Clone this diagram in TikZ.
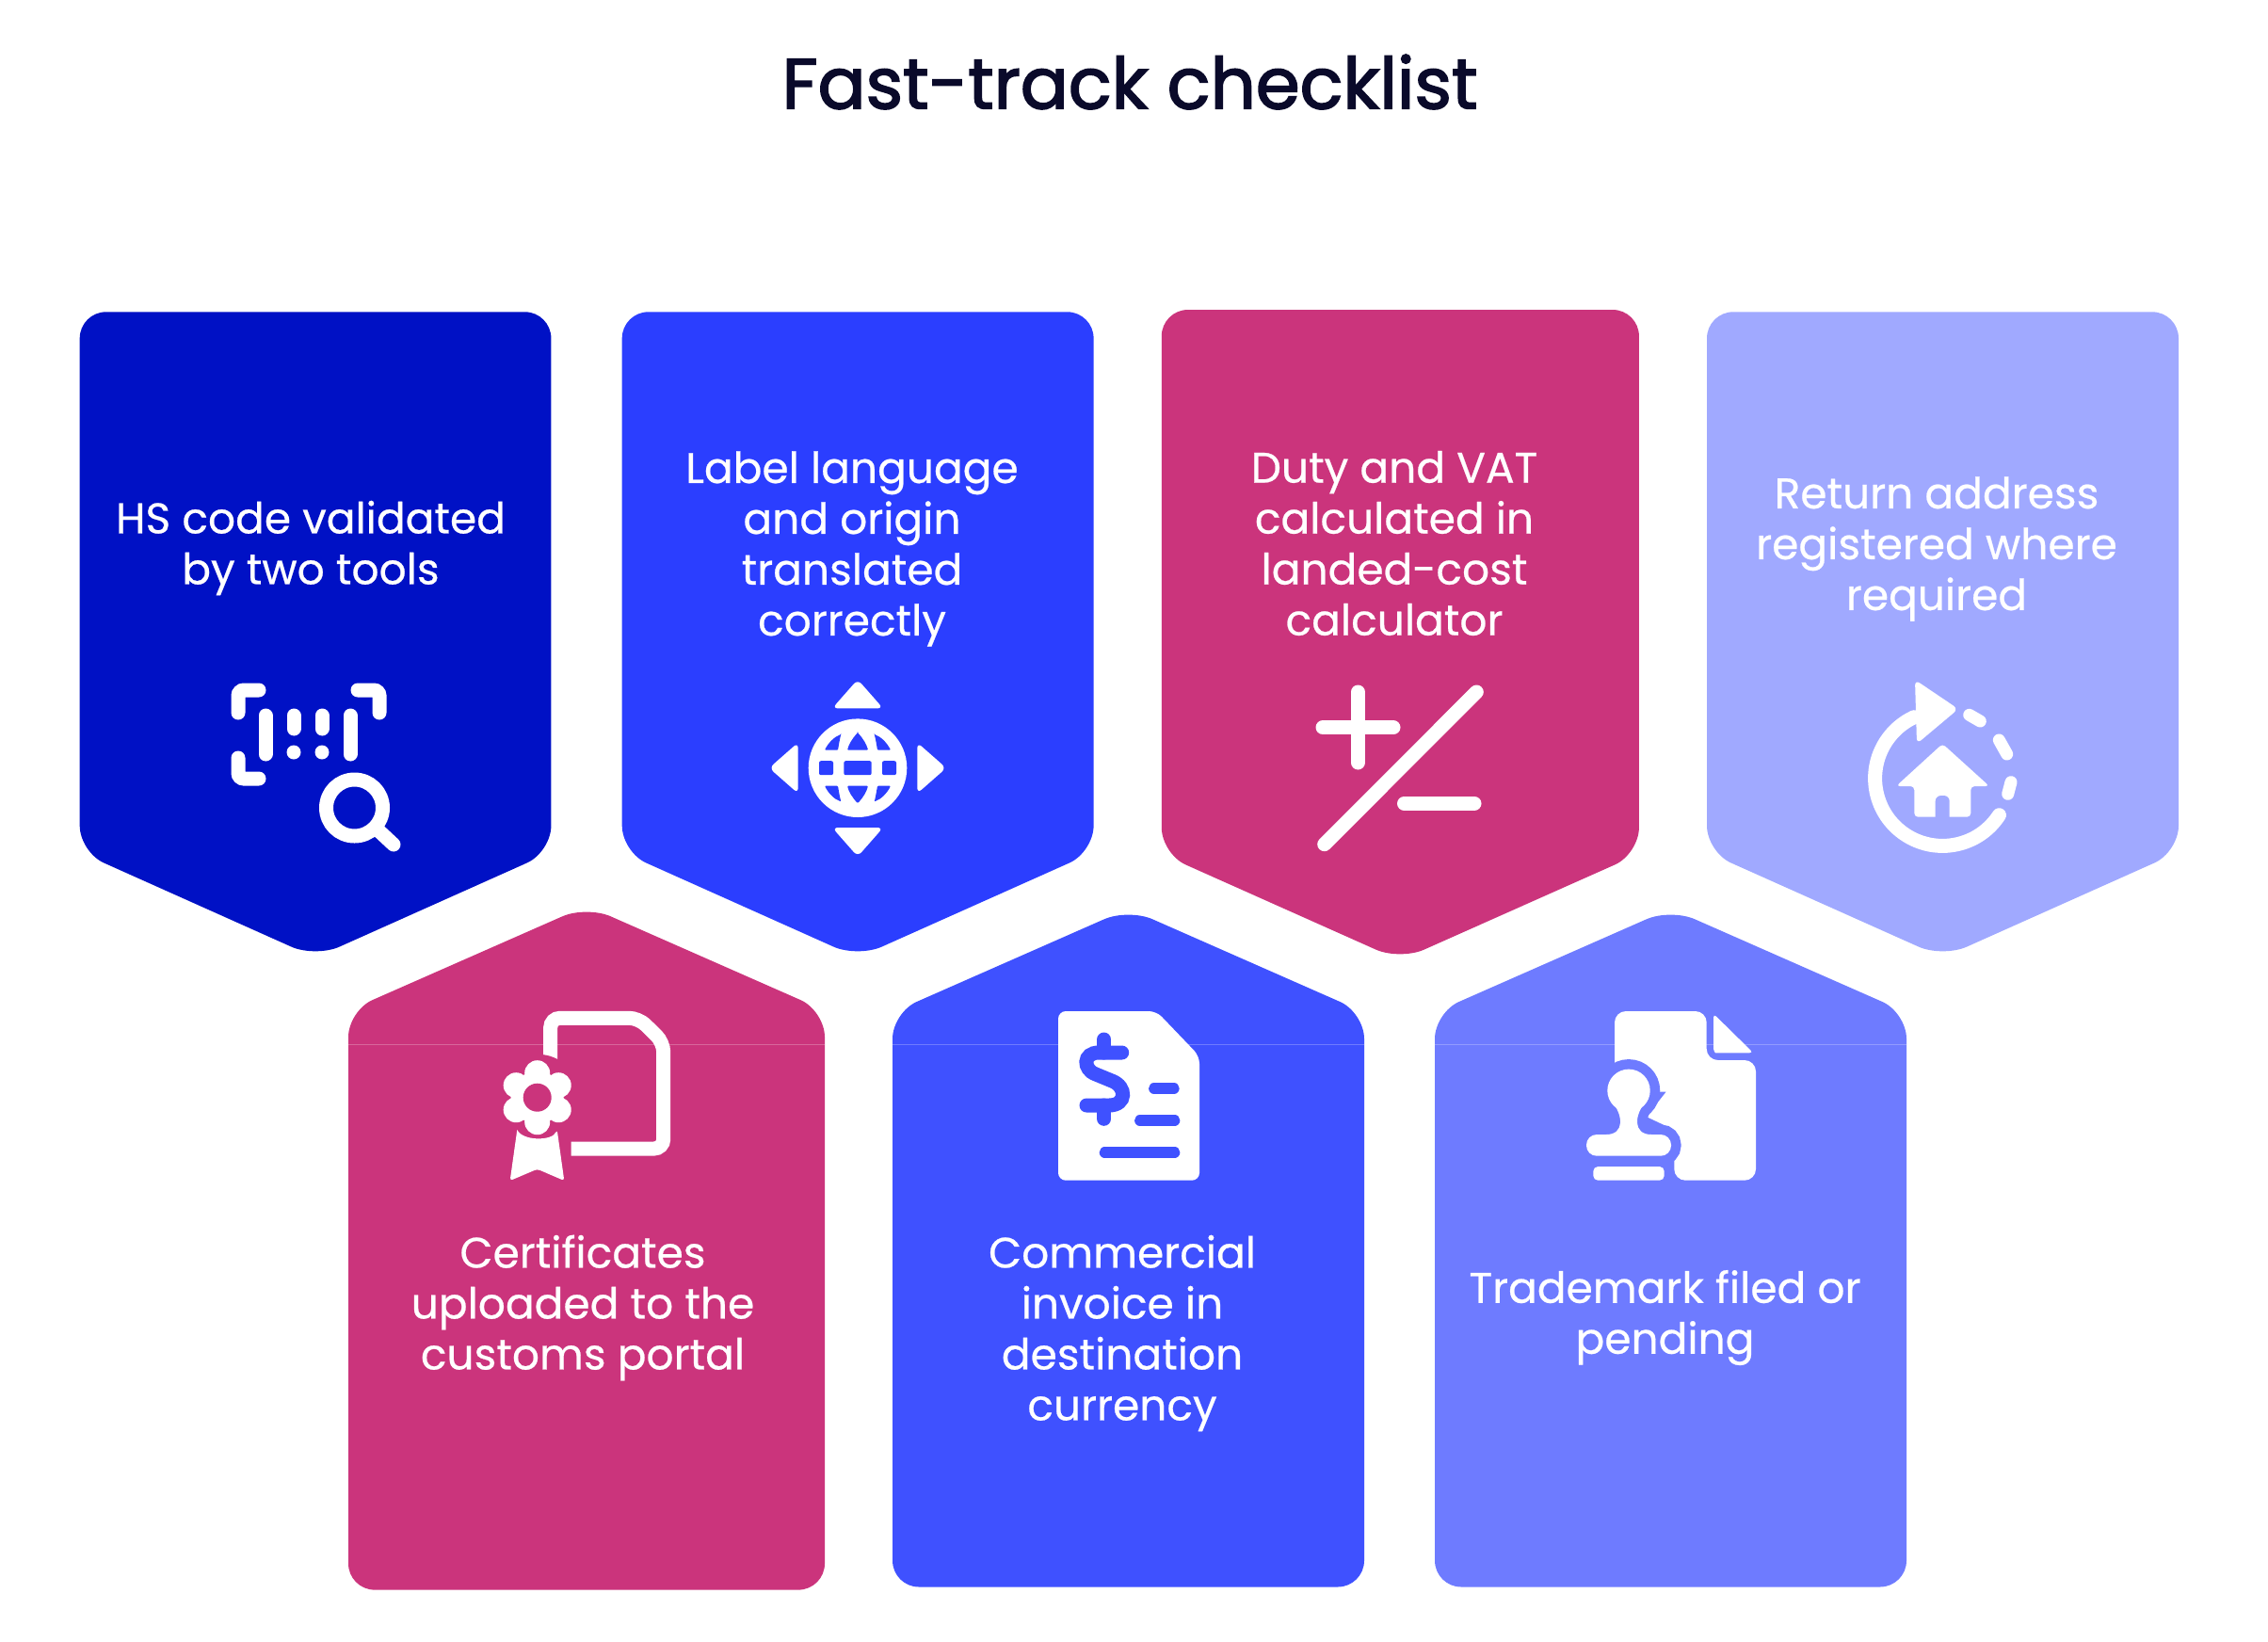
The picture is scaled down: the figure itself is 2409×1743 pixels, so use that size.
\documentclass[tikz,border=0pt]{standalone}
\usepackage{fontspec}
\setmainfont{Poppins}
\newfontfamily\titlefont[FakeBold=2.2]{Poppins}
\newfontfamily\captionfont[FakeBold=0.5]{Poppins}
\definecolor{navy}{HTML}{0011C5}
\definecolor{royal}{HTML}{2B3EFF}
\definecolor{berry}{HTML}{CB347C}
\definecolor{lilac}{HTML}{A0A9FF}
\definecolor{azure}{HTML}{3F51FF}
\definecolor{periwinkle}{HTML}{6E7BFF}
\definecolor{ink}{HTML}{0A0A2A}
\tikzset{
  card/.style={rounded corners=28pt},
  seam/.style={line width=1.5pt,white,opacity=0.25},
  caption/.style={white,align=center,font=\captionfont\fontsize{45.5}{54}\selectfont},
  iconline/.style={white,line width=15pt,line cap=round},
  iconfill/.style={fill=white,rounded corners=4pt}
}

\begin{document}
\begin{tikzpicture}[x=1pt,y=-1pt]
    \useasboundingbox (0,0) rectangle (2409,1743);
    \node[ink,font=\titlefont\fontsize{75.5}{80}\selectfont] (title) at (1200,87) {Fast-track checklist};

    \fill[card,navy] (335,331.3) -- (585.4,331.3) -- (585.4,905) -- (335,1017) -- (84.7,905) -- (84.7,331.3) -- cycle;
    \fill[card,royal] (911,331.3) -- (1161.6,331.3) -- (1161.6,905) -- (911,1017) -- (660.7,905) -- (660.7,331.3) -- cycle;
    \fill[card,berry] (1487,329) -- (1740.9,329) -- (1740.9,907) -- (1487,1020) -- (1233.8,907) -- (1233.8,329) -- cycle;
    \fill[card,lilac] (2063.5,331.3) -- (2314,331.3) -- (2314,905) -- (2063.5,1017) -- (1813,905) -- (1813,331.3) -- cycle;
    \fill[card,berry] (623,1688.6) -- (370,1688.6) -- (370,1073.4) -- (623,962) -- (876,1073.4) -- (876,1688.6) -- cycle;
    \fill[card,azure] (1198.5,1685.5) -- (948,1685.5) -- (948,1075.3) -- (1198.5,965) -- (1449,1075.3) -- (1449,1685.5) -- cycle;
    \fill[card,periwinkle] (1774.5,1685.5) -- (1524,1685.5) -- (1524,1075.3) -- (1774.5,965) -- (2025,1075.3) -- (2025,1685.5) -- cycle;
    \draw[seam] (370,1109.3) -- (876,1109.3);
    \draw[seam] (948,1109.3) -- (1449,1109.3);
    \draw[seam] (1524,1109.3) -- (2025,1109.3);

    \node[caption] (hscode) at (330,582) {HS code validated\\by two tools};
    \node[caption] (labellang) at (905,583) {Label language\\and origin\\translated\\correctly};
    \node[caption] (duty) at (1481,577) {Duty and VAT\\calculated in\\landed-cost\\calculator};
    \node[caption] (returnaddr) at (2057,583) {Return address\\registered where\\required};
    \node[caption] (certs) at (619,1389) {Certificates\\uploaded to the\\customs portal};
    \node[caption] (invoice) at (1192,1416) {Commercial\\invoice in\\destination\\currency};
    \node[caption] (trademark) at (1768.5,1399.5) {Trademark filed or\\pending};

    % barcode
    \draw[iconline,rounded corners=6pt] (253,757) -- (253,733) -- (275,733);
    \draw[iconline,rounded corners=6pt] (403,757) -- (403,733) -- (380,733);
    \draw[iconline,rounded corners=6pt] (253,805) -- (253,827) -- (275,827);
    \draw[iconline] (282,760) -- (282,801);
    \draw[iconline] (372,760) -- (372,801);
    \foreach \x in {312,342} {
      \draw[iconline] (\x,760) -- (\x,774);
      \fill[white] (\x,799) circle (7.5);
    }
    \draw[white,line width=15pt] (376.5,858) circle (30);
    \draw[iconline] (403,883) -- (418,897);

    % globe
    \begin{scope}[shift={(911,815.7)}]
      \fill[white] (0,0) circle (52.3);
      \fill[royal,rounded corners=2pt] (-41,-7.5) rectangle (-26,7.5);
      \fill[royal,rounded corners=2pt] (-14.7,-7.5) rectangle (14.7,7.5);
      \fill[royal,rounded corners=2pt] (26,-7.5) rectangle (41,7.5);
      \foreach \s in {1,-1} {
        \begin{scope}[yscale=\s]
          \fill[royal,rounded corners=1pt] (0,-37.5) .. controls (6,-31) and (9.5,-25) .. (11,-19) -- (-11,-19) .. controls (-9.5,-25) and (-6,-31) .. cycle;
          \fill[royal,rounded corners=1pt] (-17.7,-35.7) .. controls (-25,-33) and (-31,-27) .. (-35,-19) -- (-21,-19) .. controls (-20,-25) and (-19,-31) .. cycle;
          \fill[royal,rounded corners=1pt] (17.7,-35.7) .. controls (25,-33) and (31,-27) .. (35,-19) -- (21,-19) .. controls (20,-25) and (19,-31) .. cycle;
        \end{scope}
      }
      \foreach \a in {0,90,180,270} {
        \fill[iconfill,rounded corners=6pt,rotate=\a] (-27,-63.3) -- (0,-94) -- (27,-63.3) -- cycle;
      }
    \end{scope}

    % plus and minus
    \draw[iconline] (1405,772.7) -- (1480,772.7);
    \draw[iconline] (1442.3,735) -- (1442.3,810);
    \draw[iconline] (1406.7,896.7) -- (1568.3,735);
    \draw[iconline] (1491.5,853.3) -- (1566,853.3);

    % return home
    \draw[iconline] (2063.3,826.7) ++(33:71.7) arc[start angle=33,end angle=245,radius=71.7];
    \fill[iconfill,rounded corners=6pt] (2034,722) -- (2080,753) -- (2036,790) -- cycle;
    \draw[iconline,line width=13pt] (2091.7,759.3) -- (2103.3,766);
    \draw[iconline,line width=13pt] (2123.3,786) -- (2131.7,801);
    \draw[iconline,line width=13pt] (2136,830.7) -- (2132.7,843.3);
    \fill[iconfill] (2063.3,790) -- (2113,835) -- (2093.3,835) -- (2093.3,867.7) -- (2033.3,867.7) -- (2033.3,835) -- (2014,835) -- cycle;
    \fill[lilac,rounded corners=6pt] (2055.7,870) -- (2055.7,845) -- (2070.7,845) -- (2070.7,870);
    \fill[lilac] (2055.7,868) rectangle (2070.7,870);

    % certificate
    \draw[white,line width=15pt,rounded corners=10pt] (584.7,1140) -- (584.7,1081.3) -- (678.3,1081.3) -- (704.7,1107.3) -- (704.7,1220) -- (606.7,1220);
    \fill[berry] (570.7,1165.7) circle (46);
    \fill[white,rounded corners=3pt] (549.3,1200) -- (541.7,1254) -- (570.7,1241.7) -- (599.3,1254) -- (591.7,1200) .. controls (586,1212) and (555,1212) .. (549.3,1200);
    \fill[white] (570.7,1165.7) circle (28);
    \foreach \a in {30,90,150,210,270,330} {
      \fill[white] (570.7,1165.7) ++(\a:26) circle (13.5);
    }
    \fill[berry] (570.7,1165.7) circle (15);

    % invoice
    \fill[white,rounded corners=8pt] (1124,1074) -- (1228.3,1074) -- (1274,1121.7) -- (1274,1253.7) -- (1124,1253.7) -- cycle;
    \begin{scope}[azure,line width=15pt,line cap=round]
      \draw (1191.7,1118) -- (1167,1118) .. controls (1150,1118) and (1150,1136) .. (1164,1141) -- (1181,1148) .. controls (1197,1154) and (1197,1174) .. (1178,1174) -- (1154,1174);
      \draw (1172.7,1104) -- (1172.7,1118);
      \draw (1172.7,1188.3) -- (1172.7,1174);
      \draw[line width=11.3pt] (1225.7,1156) -- (1247,1156);
      \draw[line width=11.3pt] (1210.7,1190) -- (1247.7,1190);
      \draw[line width=11.3pt] (1173.3,1224) -- (1247.7,1224);
    \end{scope}

    % stamp
    \fill[white,rounded corners=12pt] (1715,1170) -- (1715,1074) -- (1812.7,1074) -- (1812.7,1126) -- (1865,1126) -- (1865,1253.7) -- (1778.3,1253.7) -- (1778.3,1200) -- cycle;
    \fill[white,rounded corners=4pt] (1820,1076.7) -- (1862.3,1118.3) -- (1826,1118.3) .. controls (1822,1118.3) and (1820,1116) .. (1820,1110) -- cycle;
    \begin{scope}[periwinkle,line width=21pt]
      \filldraw (1730,1158.3) circle (22.7);
      \filldraw (1712,1170) .. controls (1724,1184) and (1726,1205) .. (1706,1205) -- (1754,1205) .. controls (1734,1205) and (1736,1184) .. (1748,1170) -- cycle;
      \filldraw[rounded corners=11pt] (1685,1205) rectangle (1775,1227.7);
      \filldraw (1692.3,1239) rectangle (1767.7,1253.7);
    \end{scope}
    \fill[white] (1730,1158.3) circle (22.7);
    \fill[white] (1712,1170) .. controls (1724,1184) and (1726,1205) .. (1706,1205) -- (1754,1205) .. controls (1734,1205) and (1736,1184) .. (1748,1170) -- cycle;
    \fill[white,rounded corners=11pt] (1685,1205) rectangle (1775,1227.7);
    \fill[white,rounded corners=5pt] (1692.3,1239) -- (1767.7,1239) -- (1767.7,1253.7) -- (1692.3,1253.7) -- cycle;
\end{tikzpicture}
\end{document}
